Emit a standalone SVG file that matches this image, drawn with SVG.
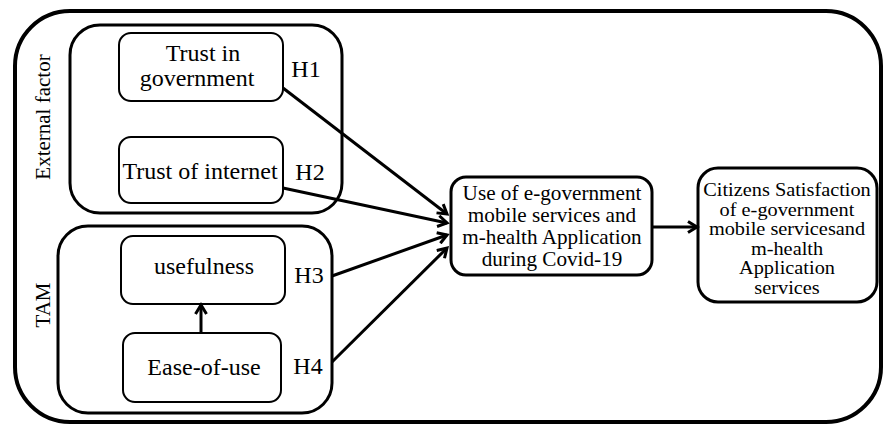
<svg xmlns="http://www.w3.org/2000/svg" width="884" height="425" viewBox="0 0 884 425">
<defs>
<style>
.frame{fill:none;stroke:#000;stroke-width:4}
.group{fill:none;stroke:#000;stroke-width:3}
.box{fill:#fff;stroke:#000;stroke-width:2}
.main{fill:#fff;stroke:#000;stroke-width:3}
.t{font-family:"Liberation Serif","Times New Roman",serif;fill:#000;text-anchor:middle}
.big{font-size:24px}
.mid{font-size:21px}
.md2{font-size:20px}
.sm{font-size:19px}
.edge{fill:none;stroke:#000;stroke-width:3}
</style>
<marker id="arr" markerWidth="14" markerHeight="14" refX="11" refY="7" orient="auto" markerUnits="userSpaceOnUse">
<path d="M2,1.5 L11,7 L2,12.5" fill="none" stroke="#000" stroke-width="3" stroke-linejoin="miter"/>
</marker>
</defs>
<rect width="884" height="425" fill="#fff"/>
<rect class="frame" x="15" y="11" width="866" height="411" rx="55" ry="55"/>

<g id="external-factor">
<rect class="group" x="70" y="25" width="272" height="188" rx="30" ry="30"/>
<text class="t mid" transform="translate(50,117) rotate(-90)">External factor</text>
</g>
<g id="tam">
<rect class="group" x="58" y="226" width="274" height="187" rx="30" ry="30"/>
<text class="t mid" transform="translate(50,305) rotate(-90)">TAM</text>
</g>

<g id="trust-government">
<rect class="box" x="119" y="33" width="164" height="68" rx="12" ry="12"/>
<text class="t big" x="203" y="61">Trust in</text>
<text class="t big" x="197" y="86">government</text>
</g>
<g id="trust-internet">
<rect class="box" x="119" y="137" width="164" height="66" rx="12" ry="12"/>
<text class="t big" x="200" y="179">Trust of internet</text>
</g>
<g id="usefulness">
<rect class="box" x="121" y="236" width="164" height="68" rx="12" ry="12"/>
<text class="t big" x="204" y="274">usefulness</text>
</g>
<g id="ease-of-use">
<rect class="box" x="123" y="333" width="158" height="69" rx="12" ry="12"/>
<text class="t big" x="204" y="375">Ease-of-use</text>
</g>
<g id="use">
<rect class="main" x="451" y="177" width="201" height="98" rx="15" ry="15"/>
<text class="t md2" transform="translate(552,199.5) scale(1.06,1)">Use of e-government</text>
<text class="t md2" transform="translate(552,221.5) scale(1.06,1)">mobile services and</text>
<text class="t md2" transform="translate(552,243.5) scale(1.06,1)">m-health Application</text>
<text class="t md2" transform="translate(552,265.5) scale(1.06,1)">during Covid-19</text>
</g>
<g id="satisfaction">
<rect class="main" x="698" y="168" width="179" height="134" rx="20" ry="20"/>
<text class="t sm" transform="translate(787,196) scale(1.07,1)">Citizens Satisfaction</text>
<text class="t sm" transform="translate(787,215.5) scale(1.07,1)">of e-government</text>
<text class="t sm" transform="translate(787,235) scale(1.07,1)">mobile servicesand</text>
<text class="t sm" transform="translate(787,254.5) scale(1.07,1)">m-health</text>
<text class="t sm" transform="translate(787,274) scale(1.07,1)">Application</text>
<text class="t sm" transform="translate(787,293.5) scale(1.07,1)">services</text>
</g>

<g id="labels">
<text class="t big" x="306" y="77">H1</text>
<text class="t big" x="310" y="180">H2</text>
<text class="t big" x="309" y="283">H3</text>
<text class="t big" x="308" y="374">H4</text>
</g>

<g id="connectors">
<line class="edge" x1="283" y1="88" x2="447" y2="214" marker-end="url(#arr)"/>
<line class="edge" x1="283" y1="188" x2="447" y2="223" marker-end="url(#arr)"/>
<line class="edge" x1="332" y1="276" x2="447" y2="235" marker-end="url(#arr)"/>
<line class="edge" x1="332" y1="362" x2="447" y2="248" marker-end="url(#arr)"/>
<line class="edge" x1="201" y1="333" x2="201" y2="305" marker-end="url(#arr)"/>
<line class="edge" x1="653" y1="227" x2="697" y2="227" marker-end="url(#arr)"/>
</g>
</svg>
